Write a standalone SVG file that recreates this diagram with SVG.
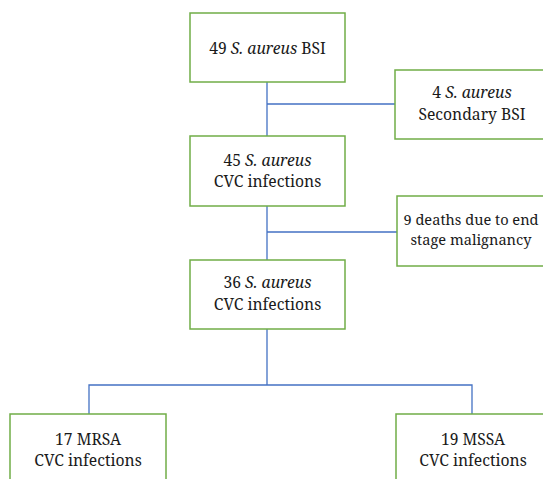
<svg xmlns="http://www.w3.org/2000/svg" width="543" height="479" viewBox="0 0 543 479">
<style>
.box{fill:#fff;stroke:#70AD47;stroke-width:1.5}
.ln{fill:none;stroke:#4472C4;stroke-width:1.3}
.t{font-family:'Noto Serif','Liberation Serif','DejaVu Serif',serif;font-size:15.7px;fill:#1a1a1a;text-anchor:middle}
.s{font-size:14.6px}
.i{font-style:italic}
</style>
<rect width="543" height="479" fill="#fff"/>
<g id="connectors">
<path class="ln" d="M267,82 V136 M267,104 H395"/>
<path class="ln" d="M267,206 V260 M267,232 H397"/>
<path class="ln" d="M267,329 V385 M89,414 V385 H472 V414"/>
</g>
<g id="n1"><rect class="box" x="190" y="13" width="155" height="69"/>
<text class="t" x="267.5" y="54">49 <tspan class="i">S. aureus</tspan> BSI</text></g>
<g id="n2"><rect class="box" x="395" y="70" width="154" height="69"/>
<text class="t" x="472" y="98">4 <tspan class="i">S. aureus</tspan></text>
<text class="t" x="472" y="120">Secondary BSI</text></g>
<g id="n3"><rect class="box" x="190" y="136" width="155" height="70"/>
<text class="t" x="267.5" y="166">45 <tspan class="i">S. aureus</tspan></text>
<text class="t" x="267.5" y="187">CVC infections</text></g>
<g id="n4"><rect class="box" x="397" y="196" width="152" height="70"/>
<text class="t s" x="471" y="225">9 deaths due to end</text>
<text class="t s" x="471" y="245">stage malignancy</text></g>
<g id="n5"><rect class="box" x="190" y="260" width="155" height="69"/>
<text class="t" x="267.5" y="288">36 <tspan class="i">S. aureus</tspan></text>
<text class="t" x="267.5" y="310">CVC infections</text></g>
<g id="n6"><rect class="box" x="10" y="414" width="156" height="80"/>
<text class="t" x="88" y="445">17 MRSA</text>
<text class="t" x="88" y="466">CVC infections</text></g>
<g id="n7"><rect class="box" x="396" y="414" width="154" height="80"/>
<text class="t" x="473" y="445">19 MSSA</text>
<text class="t" x="473" y="466">CVC infections</text></g>
</svg>
